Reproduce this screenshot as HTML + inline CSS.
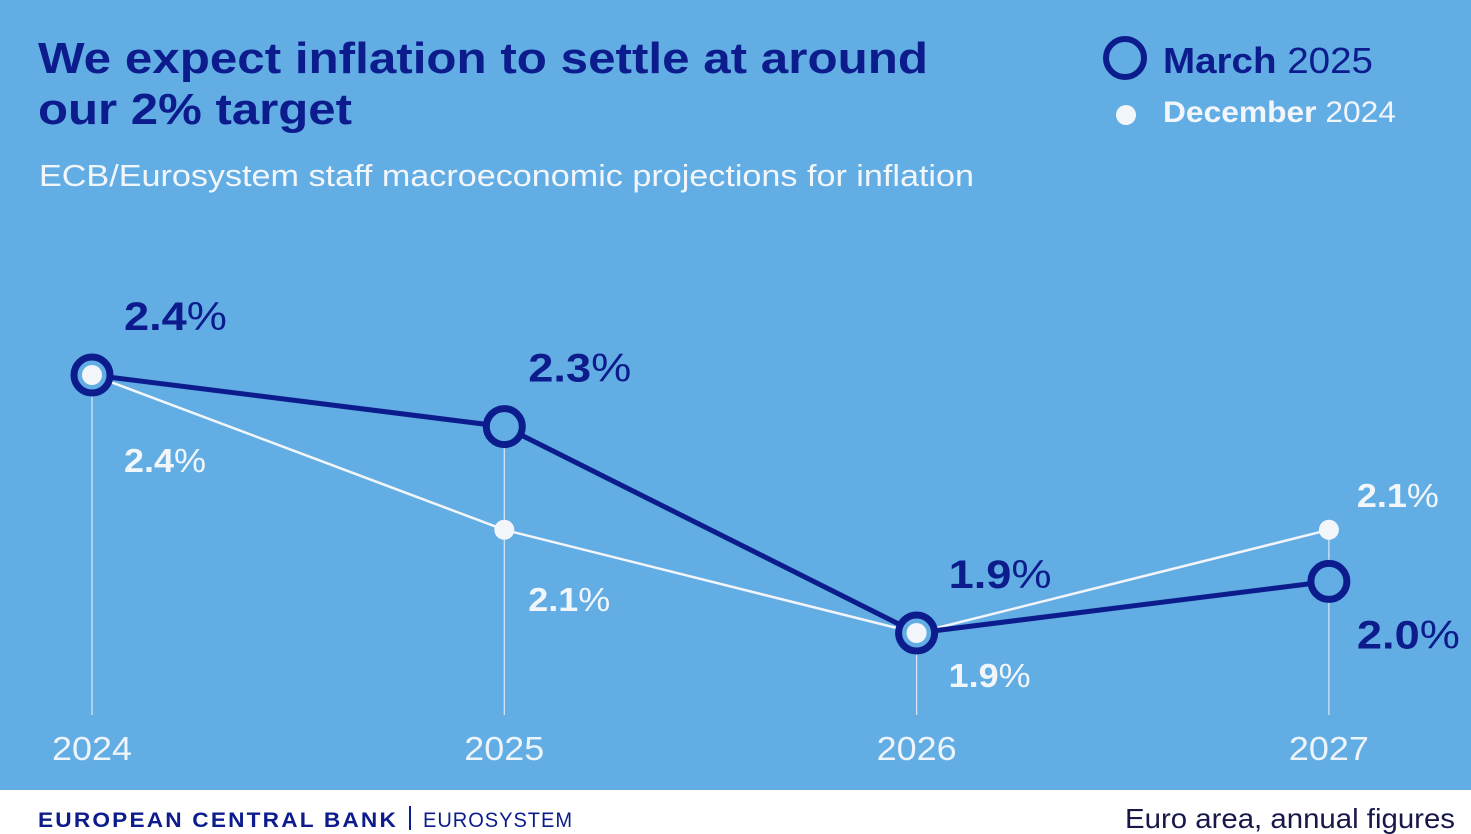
<!DOCTYPE html>
<html><head><meta charset="utf-8"><style>
html,body{margin:0;padding:0;width:1471px;height:834px;overflow:hidden;background:#62ade3;}
svg text{font-family:"Liberation Sans",sans-serif;}
</style></head><body>
<svg width="1471" height="834" viewBox="0 0 1471 834">
<rect x="0" y="0" width="1471" height="790" fill="#62ade3"/>
<rect x="0" y="790" width="1471" height="44" fill="#ffffff"/>
<text x="38" y="73" font-size="44" font-weight="bold" fill="#0c1c8c" textLength="890" lengthAdjust="spacingAndGlyphs">We expect inflation to settle at around</text>
<text x="38" y="124" font-size="44" font-weight="bold" fill="#0c1c8c" textLength="314" lengthAdjust="spacingAndGlyphs">our 2% target</text>
<text x="39" y="186" font-size="31" fill="#f2f6fb" textLength="935" lengthAdjust="spacingAndGlyphs">ECB/Eurosystem staff macroeconomic projections for inflation</text>
<g>
<circle cx="1125" cy="58" r="19" fill="none" stroke="#0c1c8c" stroke-width="6"/>
<text x="1163" y="73" font-size="36" fill="#0c1c8c" textLength="210" lengthAdjust="spacingAndGlyphs"><tspan font-weight="bold">March</tspan> 2025</text>
<circle cx="1126" cy="115" r="10" fill="#f2f6fb"/>
<text x="1163" y="122" font-size="30" fill="#f2f6fb" textLength="233" lengthAdjust="spacingAndGlyphs"><tspan font-weight="bold">December</tspan> 2024</text>
</g>
<g id="plot"></g>
<text x="38" y="827" font-size="21" font-weight="bold" fill="#0c1c8c" letter-spacing="2" textLength="360" lengthAdjust="spacingAndGlyphs">EUROPEAN CENTRAL BANK</text>
<line x1="410" y1="806" x2="410" y2="830" stroke="#0c1c8c" stroke-width="2"/>
<text x="423" y="827" font-size="21" fill="#0c1c8c" letter-spacing="1" textLength="150" lengthAdjust="spacingAndGlyphs">EUROSYSTEM</text>
<text x="1455" y="828" font-size="28" fill="#17174a" text-anchor="end" textLength="330" lengthAdjust="spacingAndGlyphs">Euro area, annual figures</text>
</svg>
<script>
const years = ['2024','2025','2026','2027'];
const march = [2.4, 2.3, 1.9, 2.0];
const december = [2.4, 2.1, 1.9, 2.1];
const marchLabels = ['2.4','2.3','1.9','2.0'];
const decLabels = ['2.4','2.1','1.9','2.1'];
const NS='http://www.w3.org/2000/svg';
const g=document.getElementById('plot');
const xS=i=>92+i*412.3;
const yS=v=>375+(2.4-v)*516;
const mxOff=[32,24,32,28];
const dBelow=[97,81,54];
function mk(t,a){const e=document.createElementNS(NS,t);for(const k in a)e.setAttribute(k,a[k]);g.appendChild(e);return e;}
years.forEach((y,i)=>{
  const top=Math.min(yS(march[i]),yS(december[i]));
  const l=mk('line',{x1:xS(i),x2:xS(i),y1:top,y2:715,stroke:'#dbe9f7','stroke-width':1.2});
  
  
  const t=mk('text',{x:xS(i),y:760,'font-size':33,fill:'#eef4fb','text-anchor':'middle',textLength:80,lengthAdjust:'spacingAndGlyphs'});
  t.textContent=y;
  
  
});
const dp=december.map((v,i)=>xS(i)+','+yS(v)).join(' ');
const dl=mk('polyline',{points:dp,fill:'none',stroke:'#f2f6fb','stroke-width':2.5});


const mp=march.map((v,i)=>xS(i)+','+yS(v)).join(' ');
const ml=mk('polyline',{points:mp,fill:'none',stroke:'#0c1c8c','stroke-width':5,'stroke-linejoin':'round'});


march.forEach((v,i)=>{
  const c=mk('circle',{cx:xS(i),cy:yS(v),r:18,fill:'#62ade3',stroke:'#0c1c8c','stroke-width':7});
  
  
});
december.forEach((v,i)=>{
  const c=mk('circle',{cx:xS(i),cy:yS(v),r:10,fill:'#f2f6fb'});
  
  
});
march.forEach((v,i)=>{
  const below=march[i]<december[i];
  const t=mk('text',{x:xS(i)+mxOff[i],y:below?yS(v)+67:yS(v)-45,'font-size':40,fill:'#0c1c8c',textLength:103,lengthAdjust:'spacingAndGlyphs'});
  t.innerHTML='<tspan font-weight="bold">'+marchLabels[i]+'</tspan>%';
  
  
});
december.forEach((v,i)=>{
  const above=december[i]>march[i];
  const t=mk('text',{x:xS(i)+(above?28:mxOff[i]),y:above?yS(v)-23:yS(v)+dBelow[i],'font-size':33,fill:'#f2f6fb',textLength:82,lengthAdjust:'spacingAndGlyphs'});
  t.innerHTML='<tspan font-weight="bold">'+decLabels[i]+'</tspan>%';
  
  
});
</script>
</body></html>
